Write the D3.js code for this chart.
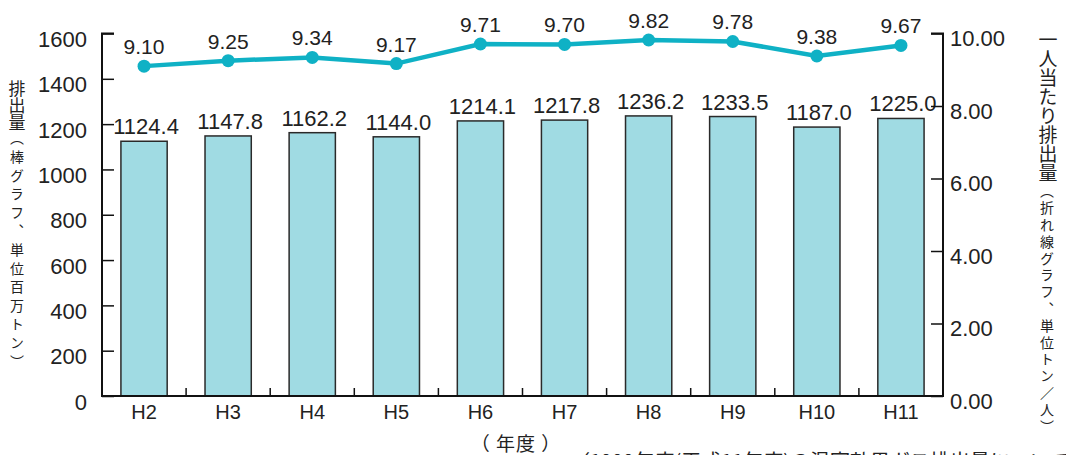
<!DOCTYPE html>
<html lang="ja">
<head>
<meta charset="utf-8">
<script src="https://cdn.jsdelivr.net/npm/d3@7"></script>
<style>
  html, body { margin: 0; padding: 0; background: #fff; overflow: hidden; }
  svg { display: block; }
  .num { font-family: "Liberation Sans", Arial, sans-serif; fill: #222; }
  .jp { font-family: "Noto Sans CJK JP", sans-serif; fill: #222; }
  .vert { writing-mode: vertical-rl; text-orientation: upright; }
</style>
</head>
<body>
<svg id="chart" width="1066" height="455"></svg>
<script>
// 年度別の排出量（百万トン）と一人当たり排出量（トン／人）
const categories = ["H2", "H3", "H4", "H5", "H6", "H7", "H8", "H9", "H10", "H11"];
const emissions = [1124.4, 1147.8, 1162.2, 1144.0, 1214.1, 1217.8, 1236.2, 1233.5, 1187.0, 1225.0];
const perCapita = [9.10, 9.25, 9.34, 9.17, 9.71, 9.70, 9.82, 9.78, 9.38, 9.67];
const leftTicks = [0, 200, 400, 600, 800, 1000, 1200, 1400, 1600];
const rightTicks = [0, 2, 4, 6, 8, 10];

const svg = d3.select("#chart");
const plot = { left: 102, right: 943, top: 33.5, bottom: 396 };

const x = d3.scaleBand().domain(categories).range([plot.left, plot.right]).paddingInner(0.45).paddingOuter(0.225);
const xBand = d3.scaleBand().domain(categories).range([plot.left, plot.right]);
const yL = d3.scaleLinear().domain([0, 1600]).range([plot.bottom, plot.top]);
const yR = d3.scaleLinear().domain([0, 10]).range([plot.bottom, plot.top]);

const lineColor = "#0fb1c5";
const barFill = "#a0dbe3";

// 棒グラフ
const rows = categories.map((c, i) => ({ c, v: emissions[i], p: perCapita[i] }));
svg.append("g").selectAll("rect").data(rows).join("rect")
  .attr("x", d => x(d.c))
  .attr("y", d => yL(d.v))
  .attr("width", x.bandwidth())
  .attr("height", d => yL(0) - yL(d.v))
  .attr("fill", barFill)
  .attr("stroke", "#2a2a2a")
  .attr("stroke-width", 1.5);

svg.append("g").selectAll("text").data(rows).join("text")
  .attr("class", "num")
  .attr("x", d => x(d.c) + x.bandwidth() / 2 + 2)
  .attr("y", d => yL(d.v) - 7)
  .attr("text-anchor", "middle")
  .attr("font-size", 22)
  .text(d => d.v.toFixed(1));

// 左軸
const axisL = d3.axisLeft(yL).tickValues(leftTicks).tickSize(-12).tickPadding(0).tickFormat(d => d);
const gL = svg.append("g").attr("transform", `translate(${plot.left},0)`).call(axisL);
gL.select(".domain").remove();
gL.selectAll(".tick line").attr("stroke", "#111").attr("stroke-width", 1.5);
gL.selectAll(".tick text").attr("class", "num").attr("font-size", 22)
  .attr("x", -15).attr("dy", "0.32em").attr("y", 6).attr("fill", "#222");

// 右軸
const axisR = d3.axisRight(yR).tickValues(rightTicks).tickSize(-12).tickPadding(0).tickFormat(d => d.toFixed(2));
const gR = svg.append("g").attr("transform", `translate(${plot.right},0)`).call(axisR);
gR.select(".domain").remove();
gR.selectAll(".tick line").attr("stroke", "#111").attr("stroke-width", 1.5);
gR.selectAll(".tick text").attr("class", "num").attr("font-size", 22)
  .attr("x", 7).attr("dy", "0.32em").attr("y", 5).attr("fill", "#222");

// 下軸（区切り目盛）
const axisB = d3.axisBottom(xBand).tickSize(0).tickPadding(0);
const gB = svg.append("g").attr("transform", `translate(0,${plot.bottom})`).call(axisB);
gB.select(".domain").remove();
gB.selectAll(".tick text").attr("class", "num").attr("font-size", 20).attr("y", 23).attr("dy", 0).attr("fill", "#222");
svg.append("g").selectAll("line").data(categories.slice(1)).join("line")
  .attr("x1", d => xBand(d)).attr("x2", d => xBand(d))
  .attr("y1", plot.bottom).attr("y2", plot.bottom - 8)
  .attr("stroke", "#111").attr("stroke-width", 1.5);

// 枠線
svg.append("path")
  .attr("d", `M${plot.left + 12},${plot.top}H${plot.left}V${plot.bottom}H${plot.right}V${plot.top}H${plot.right - 12}`)
  .attr("fill", "none").attr("stroke", "#111").attr("stroke-width", 2);

// 折れ線グラフ
const cx = d => xBand(d.c) + xBand.bandwidth() / 2;
svg.append("path").datum(rows)
  .attr("d", d3.line().x(cx).y(d => yR(d.p)))
  .attr("fill", "none").attr("stroke", lineColor).attr("stroke-width", 4.5);
svg.append("g").selectAll("circle").data(rows).join("circle")
  .attr("cx", cx).attr("cy", d => yR(d.p)).attr("r", 6.5).attr("fill", lineColor);
svg.append("g").selectAll("text").data(rows).join("text")
  .attr("class", "num")
  .attr("x", d => cx(d))
  .attr("y", d => yR(d.p) - 12)
  .attr("text-anchor", "middle")
  .attr("font-size", 21)
  .text(d => d.p.toFixed(2));

// 軸タイトル
svg.append("text").attr("class", "jp vert").attr("x", 17).attr("y", 80)
  .attr("font-size", 17).text("排出量");
svg.append("text").attr("class", "jp vert").attr("x", 17).attr("y", 131)
  .attr("font-size", 14).attr("letter-spacing", 4.6).text("（棒グラフ、単位百万トン）");

svg.append("text").attr("class", "jp vert").attr("x", 1048).attr("y", 30)
  .attr("font-size", 19).text("一人当たり排出量");
svg.append("text").attr("class", "jp vert").attr("x", 1047).attr("y", 184)
  .attr("font-size", 14).attr("letter-spacing", 2.8).text("（折れ線グラフ、単位トン／人）");

svg.append("text").attr("class", "jp").attr("x", 516).attr("y", 451)
  .attr("text-anchor", "middle").attr("font-size", 19).attr("letter-spacing", 1)
  .text("（ 年度 ）");

svg.append("text").attr("class", "jp").attr("x", 570).attr("y", 469)
  .attr("font-size", 20).text("（1999年度(平成11年度)の温室効果ガス排出量について）");
</script>
</body>
</html>
